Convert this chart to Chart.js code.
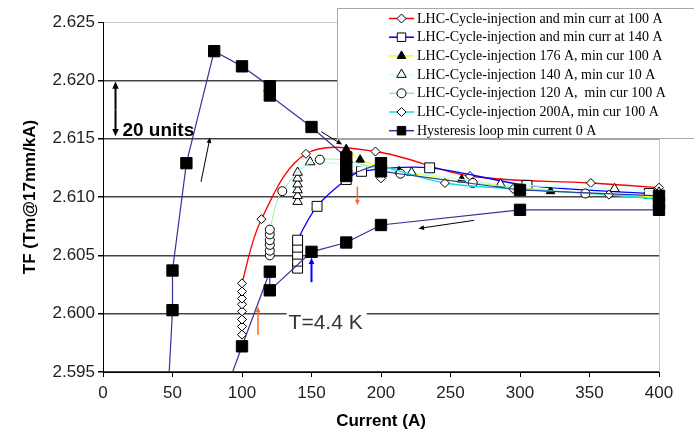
<!DOCTYPE html>
<html>
<head>
<meta charset="utf-8">
<script src="https://cdn.jsdelivr.net/npm/chart.js@4.4.0/dist/chart.umd.min.js"></script>
<style>
  html, body { margin: 0; padding: 0; background: #fff; }
  #tfChart { display: block; }
</style>
</head>
<body>
<canvas id="tfChart" width="694" height="434"></canvas>
<script>
const currentTicks = [0, 50, 100, 150, 200, 250, 300, 350, 400];
const tfTicks = [2.595, 2.600, 2.605, 2.610, 2.615, 2.620, 2.625];

const seriesNames = [
  'LHC-Cycle-injection and min curr at 100 A',
  'LHC-Cycle-injection and min curr at 140 A',
  'LHC-Cycle-injection 176 A, min cur 100 A',
  'LHC-Cycle-injection 140 A, min cur 10 A',
  'LHC-Cycle-injection 120 A,  min cur 100 A',
  'LHC-Cycle-injection 200A, min cur 100 A',
  'Hysteresis loop min current 0 A'
];

// injection and min at 100 A
const inj100Current = [100, 100, 100, 100, 100, 100, 100, 100, 114, 146, 196, 264, 351, 400];
const inj100TF = [2.5982, 2.5989, 2.5995, 2.6002, 2.6008, 2.6013, 2.6019, 2.6026, 2.6081, 2.6137, 2.6139, 2.6118, 2.6112, 2.6108];

// injection and min at 140 A
const inj140Current = [140, 140, 140, 140, 140, 154, 175, 186, 235, 305, 393];
const inj140TF = [2.6039, 2.6045, 2.6051, 2.6057, 2.6063, 2.6092, 2.6115, 2.6122, 2.6125, 2.6110, 2.6103];

// injection 176 A, min 100 A
const inj176Current = [175, 175, 175, 175, 175, 185, 213, 258, 322, 400];
const inj176TF = [2.6117, 2.6123, 2.6129, 2.6135, 2.6141, 2.6132, 2.6122, 2.6115, 2.6105, 2.6100];

// injection 140 A, min 10 A
const inj140min10Current = [140, 140, 140, 140, 140, 140, 149, 222, 286, 368, 400];
const inj140min10TF = [2.6096, 2.6101, 2.6106, 2.6111, 2.6116, 2.6121, 2.6130, 2.6121, 2.6111, 2.6107, 2.6104];

// injection 120 A, min 100 A
const inj120Current = [120, 120, 120, 120, 120, 120, 129, 156, 214, 266, 347, 400];
const inj120TF = [2.6050, 2.6054, 2.6059, 2.6063, 2.6068, 2.6072, 2.6105, 2.6132, 2.6120, 2.6112, 2.6103, 2.6099];

// injection 200 A, min 100 A
const inj200Current = [200, 200, 200, 246, 295, 364, 400];
const inj200TF = [2.6116, 2.6121, 2.6126, 2.6112, 2.6107, 2.6102, 2.6098];

// hysteresis loop, up ramp then down ramp
const hystCurrent = [40, 50, 50, 60, 80, 100, 120, 120, 150, 175, 175, 175, 200, 200, 300, 400,
  400, 400, 300, 200, 175, 150, 120, 120, 100, 80];
const hystTF = [2.5780, 2.6003, 2.6037, 2.6129, 2.6225, 2.6212, 2.6195, 2.6187, 2.6160, 2.6134, 2.6126, 2.6118, 2.6129, 2.6122, 2.6106, 2.6101,
  2.6095, 2.6089, 2.6089, 2.6076, 2.6061, 2.6053, 2.6020, 2.6036, 2.5972, 2.5907];

const SANS = '"Liberation Sans", Arial, sans-serif';
const SERIF = '"Liberation Serif", "Times New Roman", serif';

function pts(xs, ys) {
  return xs.map((x, i) => ({ x: x, y: ys[i] }));
}

function series(label, xs, ys, line, style, radius, fill, tension, width, order) {
  return {
    label: label,
    data: pts(xs, ys),
    showLine: true,
    borderColor: line,
    borderWidth: width,
    tension: tension,
    pointStyle: style,
    pointRadius: radius,
    pointBackgroundColor: fill,
    pointBorderColor: '#000',
    pointBorderWidth: 1,
    clip: { left: 2, top: 2, right: 14, bottom: 0 },
    order: order
  };
}

const datasets = [
  series(seriesNames[0], inj100Current, inj100TF, '#ff0000', 'rectRot', 4.5, '#fff', 0.35, 1.3, 7),
  series(seriesNames[1], inj140Current, inj140TF, '#0000ff', 'rect', 7, '#fff', 0.3, 1.3, 6),
  series(seriesNames[2], inj176Current, inj176TF, '#ffff00', 'triangle', 5, '#000', 0.3, 1.3, 5),
  series(seriesNames[3], inj140min10Current, inj140min10TF, '#c8ffff', 'triangle', 5.5, '#fff', 0.3, 1.3, 4),
  series(seriesNames[4], inj120Current, inj120TF, '#99ee99', 'circle', 4.5, '#fff', 0.35, 1, 3),
  series(seriesNames[5], inj200Current, inj200TF, '#00e5e5', 'rectRot', 4.5, '#fff', 0.3, 1.3, 2),
  series(seriesNames[6], hystCurrent, hystTF, '#333399', 'rect', 8, '#000', 0, 1.2, 1)
];

function arrow(ctx, x1, y1, x2, y2, color, width, head) {
  const a = Math.atan2(y2 - y1, x2 - x1);
  ctx.strokeStyle = color;
  ctx.fillStyle = color;
  ctx.lineWidth = width;
  ctx.beginPath();
  ctx.moveTo(x1, y1);
  ctx.lineTo(x2 - Math.cos(a) * head * 0.7, y2 - Math.sin(a) * head * 0.7);
  ctx.stroke();
  ctx.beginPath();
  ctx.moveTo(x2, y2);
  ctx.lineTo(x2 - head * Math.cos(a - 0.42), y2 - head * Math.sin(a - 0.42));
  ctx.lineTo(x2 - head * Math.cos(a + 0.42), y2 - head * Math.sin(a + 0.42));
  ctx.closePath();
  ctx.fill();
}

// boxed legend with line + marker samples, drawn over the plot like the original
const boxLegend = {
  id: 'boxLegend',
  afterDatasetsDraw(chart) {
    const ctx = chart.ctx;
    ctx.save();
    ctx.fillStyle = '#fff';
    ctx.fillRect(337.5, 8.5, 370, 130);
    ctx.strokeStyle = '#a8a8a8';
    ctx.lineWidth = 1;
    ctx.strokeRect(337.5, 8.5, 370, 130);
    chart.data.datasets.forEach((ds, i) => {
      const y = 18.5 + i * 18.7;
      ctx.strokeStyle = ds.borderColor;
      ctx.lineWidth = 1.5;
      ctx.beginPath();
      ctx.moveTo(389, y);
      ctx.lineTo(414, y);
      ctx.stroke();
      ctx.fillStyle = ds.pointBackgroundColor;
      ctx.strokeStyle = '#000';
      ctx.lineWidth = 1;
      Chart.helpers.drawPoint(ctx, {
        pointStyle: ds.pointStyle,
        radius: Math.min(ds.pointRadius, 6),
        rotation: 0,
        borderWidth: 1
      }, 401.5, y);
      ctx.fillStyle = '#000';
      ctx.font = '14px ' + SERIF;
      ctx.textBaseline = 'middle';
      ctx.textAlign = 'left';
      ctx.fillText(ds.label, 417, y + 0.5);
    });
    ctx.restore();
  }
};

const notes = {
  id: 'notes',
  afterDraw(chart) {
    const ctx = chart.ctx;
    const xs = chart.scales.x;
    const ys = chart.scales.y;
    const px = v => xs.getPixelForValue(v);
    const py = v => ys.getPixelForValue(v);
    ctx.save();

    // 20 units double arrow
    arrow(ctx, px(9), py(2.6175), px(9), py(2.6199), '#000', 2, 8);
    arrow(ctx, px(9), py(2.6175), px(9), py(2.6152), '#000', 2, 8);
    ctx.fillStyle = '#000';
    ctx.font = 'bold 19px ' + SANS;
    ctx.textBaseline = 'alphabetic';
    ctx.textAlign = 'left';
    ctx.fillText('20 units', px(14), py(2.6152));

    // thin black arrows along the loop
    arrow(ctx, px(70.5), py(2.6113), px(77), py(2.6151), '#000', 1, 6);
    arrow(ctx, px(157), py(2.6156), px(172), py(2.6145), '#000', 1, 6);
    arrow(ctx, px(267), py(2.6080), px(227), py(2.6073), '#000', 1, 6);

    // coloured arrows
    arrow(ctx, px(183), py(2.6109), px(183), py(2.6093), '#ff6a1a', 1.5, 6);
    arrow(ctx, px(150), py(2.6027), px(150), py(2.6048), '#0000ff', 2, 7);
    arrow(ctx, px(111.5), py(2.5982), px(111.5), py(2.6006), '#ff6a1a', 1.5, 6);

    // temperature label
    ctx.font = '21px ' + SANS;
    const tx = px(133.5);
    const ty = py(2.5987);
    const tw = ctx.measureText('T=4.4 K').width;
    ctx.fillStyle = '#fff';
    ctx.fillRect(tx - 2, py(2.6003), tw + 6, ty - py(2.6003) + 4);
    ctx.fillStyle = '#333';
    ctx.fillText('T=4.4 K', tx, ty);
    ctx.restore();
  }
};

new Chart(document.getElementById('tfChart'), {
  type: 'scatter',
  data: { datasets: datasets },
  options: {
    responsive: false,
    animation: false,
    layout: { padding: { left: 0, right: 35, top: 22, bottom: 0 } },
    plugins: {
      legend: { display: false },
      tooltip: { enabled: false }
    },
    scales: {
      x: {
        type: 'linear',
        min: 0,
        max: 400,
        afterBuildTicks: axis => { axis.ticks = currentTicks.map(v => ({ value: v })); },
        afterFit: axis => { axis.height = 62; },
        grid: {
          color: c => (c.index === currentTicks.length - 1 ? '#c8c8c8' : 'rgba(0,0,0,0)'),
          tickColor: '#000',
          tickLength: 5,
          lineWidth: 1
        },
        border: { color: '#000', width: 1 },
        ticks: {
          font: { family: SANS, size: 17 },
          color: '#222',
          padding: 6,
          maxRotation: 0,
          autoSkip: false
        },
        title: {
          display: true,
          text: 'Current (A)',
          font: { family: SANS, size: 17, weight: 'bold' },
          color: '#000',
          padding: { top: 0, bottom: 2 }
        }
      },
      y: {
        type: 'linear',
        min: 2.595,
        max: 2.625,
        afterBuildTicks: axis => { axis.ticks = tfTicks.map(v => ({ value: v })); },
        afterFit: axis => { axis.width = 103; },
        grid: {
          color: c => (c.index === tfTicks.length - 1 ? '#c8c8c8' : '#444'),
          lineWidth: c => (c.index === tfTicks.length - 1 ? 1 : 1.5),
          tickColor: '#000',
          tickLength: 5
        },
        border: { color: '#000', width: 1 },
        ticks: {
          font: { family: SANS, size: 17 },
          color: '#222',
          padding: 3,
          callback: v => v.toFixed(3)
        },
        title: {
          display: true,
          text: 'TF (Tm@17mm/kA)',
          font: { family: SANS, size: 17, weight: 'bold' },
          color: '#000',
          padding: { top: 20, bottom: 0 }
        }
      }
    }
  },
  plugins: [boxLegend, notes]
});
</script>
</body>
</html>
